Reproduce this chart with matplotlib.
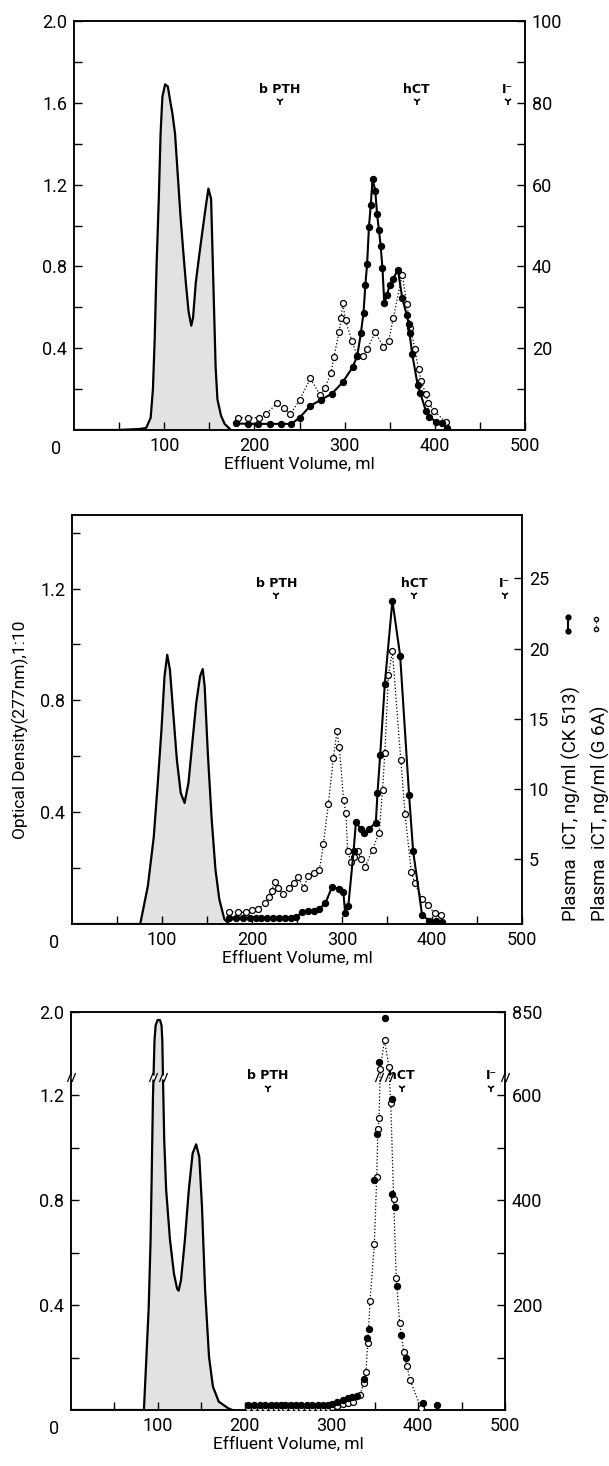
import numpy as np
import matplotlib
matplotlib.use("Agg")
import matplotlib.pyplot as plt
from matplotlib.lines import Line2D
from matplotlib.path import Path

plt.rcParams["font.family"] = ["Roboto", "DejaVu Sans"]

# ---------------- panel 1 ----------------
od1_ml = [0, 48, 73, 80, 85, 87.5, 89.5, 91.5, 94, 96, 98, 101, 104, 107, 109, 112, 115, 118, 121,
          124, 127, 130, 132, 135, 139, 142, 146, 149, 152, 154, 157, 159, 163, 167, 174]
od1_val = [0, 0, 0.005, 0.01, 0.06, 0.2, 0.45, 0.8, 1.13, 1.45, 1.63, 1.69, 1.68, 1.6, 1.55, 1.45, 1.25,
           1.05, 0.88, 0.72, 0.58, 0.51, 0.55, 0.72, 0.86, 0.96, 1.09, 1.18, 1.13, 0.8, 0.31, 0.15, 0.07,
           0.03, 0]
ck1_ml = [180, 193, 204, 217, 229, 241, 250, 262, 274, 286, 298, 309, 314, 318, 321, 323, 325, 327,
          329, 331, 334, 336, 338, 340, 342, 344, 347, 350, 354, 359, 364, 369, 371, 372, 375, 381,
          384, 390, 394, 401, 408, 414]
ck1_val = [1.6, 1.5, 1.5, 1.5, 1.5, 1.5, 3.0, 5.9, 7.4, 8.9, 11.7, 15.4, 18.1, 23.6, 28.7, 35.5, 40.7,
           49.7, 55.0, 61.4, 58.5, 52.8, 49.0, 45.0, 39.5, 31.0, 33.0, 35.5, 37.0, 39.2, 32.2, 28.0, 26.0,
           23.6, 18.5, 11.0, 9.0, 4.7, 3.3, 2.0, 1.6, 0.6]
g1_ml = [182, 193, 205, 213, 225, 233, 240, 250, 262, 273, 278, 285, 288, 294, 296, 298, 301, 308,
         314, 320, 325, 334, 343, 349, 354, 364, 369, 373, 378, 382, 385, 390, 393, 399, 412]
g1_val = [3.0, 3.0, 3.0, 3.9, 6.5, 5.3, 3.9, 7.3, 12.6, 8.5, 10.2, 13.9, 17.8, 24.0, 27.3, 31.0, 26.9,
          21.8, 18.1, 18.1, 19.7, 24.0, 20.3, 21.8, 27.5, 38.0, 30.8, 25.0, 19.7, 14.8, 12.0, 8.7, 6.7,
          4.7, 2.0]

# ---------------- panel 2 ----------------
od2_ml = [0, 75.8, 84.3, 90.8, 95, 99.4, 102.8, 105.8, 108.8, 112.2, 116.5, 120.8, 125.1, 129.4, 133.7,
          138, 142.3, 145.3, 147.4, 150.9, 155.2, 159.4, 163.7, 169.3, 174.5]
od2_val = [0, 0, 0.136, 0.31, 0.49, 0.695, 0.886, 0.963, 0.91, 0.767, 0.588, 0.469, 0.433, 0.505, 0.648,
           0.79, 0.886, 0.912, 0.85, 0.612, 0.374, 0.195, 0.088, 0.017, 0]
ck2_ml = [174.5, 182.6, 190, 197.4, 204, 210.3, 216.9, 223.1, 229.8, 236.4, 243.5, 249, 255.7, 261.9,
          268.6, 274.9, 281.5, 289, 296.2, 301.4, 303.6, 307, 312.9, 315.5, 321, 324.7, 329.5, 337.6,
          339.4, 342.4, 347.6, 356, 364.6, 374.5, 379, 389, 396.8, 404, 411.4]
ck2_val = [0.85, 0.85, 0.85, 0.85, 0.85, 0.85, 0.85, 0.85, 0.85, 0.85, 0.85, 0.9, 1.25, 1.32, 1.32, 1.5,
           1.87, 3.05, 2.9, 2.7, 1.16, 1.68, 5.6, 7.67, 7.13, 6.84, 7.15, 7.6, 9.7, 12.4, 17.5, 23.4,
           19.5, 9.6, 5.6, 1.04, 0.64, 0.64, 0.57]
g2_ml = [174.2, 184.4, 193.7, 200.3, 206.6, 214, 218.4, 222, 225, 228.7, 234.3, 241.6, 246.4, 250.8,
         257.5, 262.3, 269.3, 274.9, 279.3, 284.8, 290.4, 294.4, 297, 301.8, 304.4, 306.2, 310, 313.6,
         317.3, 321, 325.8, 333.9, 341.3, 345, 347.6, 351.6, 356, 365.3, 370.1, 377.1, 380.8, 389,
         395.5, 402.8, 410.5]
g2_val = [1.27, 1.23, 1.23, 1.39, 1.44, 1.87, 2.3, 2.74, 3.4, 2.98, 2.5, 2.98, 3.33, 3.76, 2.98, 3.83,
          4.0, 4.24, 6.06, 8.93, 12.2, 14.1, 13.0, 9.2, 8.27, 5.6, 4.83, 5.18, 5.6, 5.0, 4.47, 5.7, 6.9,
          9.9, 12.6, 18.1, 19.8, 12.1, 8.2, 4.07, 3.3, 2.2, 1.75, 1.16, 1.04]

# ---------------- panel 3 ----------------
od3_ml = [0, 84, 86, 89.5, 91.7, 93, 94.4, 96.2, 97.5, 99.8, 102.5, 104.3, 105.2, 106, 107.4, 109.6,
          114, 118.6, 122.2, 124, 126.7, 131.2, 135.7, 140.1, 144.2, 147.8, 150.9, 154.5, 159, 163.5,
          170.2, 181.4, 186]
od3_val = [0, 0, 0.14, 0.39, 0.65, 0.9, 1.19, 1.68, 1.85, 1.91, 1.91, 1.85, 1.68, 1.26, 1.03, 0.84,
           0.65, 0.52, 0.463, 0.455, 0.495, 0.648, 0.838, 0.978, 1.013, 0.965, 0.775, 0.457, 0.203,
           0.089, 0.032, 0.006, 0]
ck3_ml = [204, 211, 218, 224, 230, 236, 242, 247, 253, 259, 265, 272, 278, 284, 290, 296, 301, 307,
          313, 319, 324, 329, 337, 340.6, 343.7, 349, 353, 355, 361.5, 369.3, 370.2, 373.8, 375.5,
          380, 385.4, 405.6, 421.3]
ck3_val = [9.5, 9.5, 9.5, 9.5, 9.5, 9.5, 9.5, 9.5, 9.5, 9.5, 9.5, 9.5, 9.5, 9.5, 9.5, 9.5, 12, 15, 19,
           22, 25, 27, 60, 138, 154, 438, 527, 685, 830, 592, 411, 387, 236, 143, 100, 12.7, 9.5]
g3_ml = [204, 211, 218, 224, 230, 236, 242, 247, 253, 259, 265, 272, 278, 284, 290, 296, 301, 307,
         313, 319, 325, 333, 337.4, 339.7, 342, 344.5, 349.5, 352.2, 353.6, 354.9, 356.3, 361.2, 366.2,
         368.4, 371.7, 374.7, 378.7, 383.5, 387, 390.5, 403.4]
g3_val = [3, 3, 3, 3, 3, 3, 3, 3, 3, 3, 3, 3, 3, 3, 3, 3, 5, 8, 11, 13, 16, 29, 52, 72, 128, 208, 316,
          444, 535, 556, 660, 758, 668, 585, 402, 251, 165, 110, 84, 58, 3]

markers = ["b PTH", "hCT", "I\u207b"]
marker_ml = [[228, 380, 481], [227, 380, 481], [227, 381, 484]]
xtick_lab = ["", "100", "", "200", "", "300", "", "400", "", "500"]

W, H = 609, 1466
fig = plt.figure(figsize=(W / 100, H / 100), dpi=100)

SLASH = Path([(-0.9, -1.0), (-0.1, 1.0), (0.1, -1.0), (0.9, 1.0)],
             [Path.MOVETO, Path.LINETO, Path.MOVETO, Path.LINETO])


def rect(left, right, top, bottom):
    return [left / W, 1 - bottom / H, (right - left) / W, (bottom - top) / H]


def squeeze(b, k):
    def fwd(y):
        y = np.asarray(y, dtype=float)
        return np.where(y <= b, y, b + (y - b) * k)

    def inv(t):
        t = np.asarray(t, dtype=float)
        return np.where(t <= b, t, b + (t - b) / k)
    return fwd, inv


def setup(ax, ax2):
    ax.set_xlim(0, 500)
    ax.set_xticks(np.arange(50, 501, 50), xtick_lab)
    for a in (ax, ax2):
        a.tick_params(direction="in", length=6, width=1, labelsize=13, pad=5)
        for s in a.spines.values():
            s.set_linewidth(1.1)
    ax.text(-0.04, -0.047, "0", transform=ax.transAxes, ha="center", va="center", fontsize=13)
    ax.set_xlabel("Effluent Volume, ml", fontsize=12.5, labelpad=1)


def od_curve(ax, ml, val):
    ax.fill_between(ml, val, color="#e2e2e2", lw=0, zorder=1)
    ax.plot(ml, val, color="k", lw=1.6, zorder=2)


def series(ax2, ck_ml, ck_val, g_ml, g_val, ck_line=True):
    ax2.plot(g_ml, g_val, ls=":", color="k", lw=0.9, marker="o", ms=4.3, mfc="white", mec="k",
             mew=0.9, zorder=3)
    ax2.plot(ck_ml, ck_val, ls="-" if ck_line else "none", color="k", lw=1.5, marker="o", ms=4.3,
             mfc="k", mec="k", zorder=4)


def tags(ax, xs, ytext, yarrow):
    tr = ax.get_xaxis_transform()
    for name, x in zip(markers, xs):
        ax.text(x, ytext, name, transform=tr, ha="center", va="center", fontsize=9,
                fontweight="bold", family=["DejaVu Sans"])
        ax.plot([x], [yarrow], transform=tr, marker="1", ms=5.5, mew=1.2, color="k")


def breaks(ax, xs, y, tr=None, clip=True):
    kw = dict(ls="none", zorder=6, clip_on=clip)
    if tr is not None:
        kw["transform"] = tr
    ax.plot(xs, [y] * len(xs), marker="s", ms=3, mfc="white", mec="none", **kw)
    ax.plot(xs, [y] * len(xs), marker=SLASH, ms=6.5, mew=0.9, color="k", **kw)


# panel 1
ax1 = fig.add_axes(rect(74, 525, 21, 430))
ax1b = ax1.twinx()
setup(ax1, ax1b)
ax1.set_ylim(0, 2.0)
ax1.set_yticks(np.arange(0.2, 2.01, 0.2), ["", "0.4", "", "0.8", "", "1.2", "", "1.6", "", "2.0"])
ax1b.set_ylim(0, 100)
ax1b.set_yticks(np.arange(10, 101, 10), ["", "20", "", "40", "", "60", "", "80", "", "100"])
od_curve(ax1, od1_ml, od1_val)
series(ax1b, ck1_ml, ck1_val, g1_ml, g1_val)
tags(ax1, marker_ml[0], 0.832, 0.805)

# panel 2
ax2 = fig.add_axes(rect(72, 522, 515, 924))
ax2b = ax2.twinx()
setup(ax2, ax2b)
ax2.set_ylim(0, 1.463)
ax2.set_yticks(np.arange(0.2, 1.41, 0.2), ["", "0.4", "", "0.8", "", "1.2", ""])
ax2b.set_ylim(0.4, 29.5)
ax2b.set_yticks([5, 10, 15, 20, 25])
od_curve(ax2, od2_ml, od2_val)
series(ax2b, ck2_ml, ck2_val, g2_ml, g2_val)
tags(ax2, marker_ml[1], 0.833, 0.804)

fig.text(20 / W, 1 - 730 / H, "Optical Density(277nm),1:10", rotation=90, ha="center", va="center",
         fontsize=12.5)
fig.text(571 / W, 1 - 921 / H, "Plasma  iCT, ng/ml (CK 513)", rotation=90, ha="center",
         va="bottom", fontsize=13.5)
fig.text(600 / W, 1 - 921 / H, "Plasma  iCT, ng/ml (G 6A)", rotation=90, ha="center",
         va="bottom", fontsize=13.5)
fig.add_artist(Line2D([568 / W] * 2, [1 - 631 / H, 1 - 617 / H], transform=fig.transFigure,
                      color="k", lw=1.5, marker="o", ms=3.5, mfc="k"))
fig.add_artist(Line2D([596 / W] * 2, [1 - 629 / H, 1 - 619 / H], transform=fig.transFigure,
                      color="k", lw=0.8, ls=":", marker="o", ms=3, mfc="white"))

# panel 3 (broken y axes)
ax3 = fig.add_axes(rect(71, 505, 1012, 1410))
ax3b = ax3.twinx()
setup(ax3, ax3b)
ax3.set_yscale("function", functions=squeeze(1.27, 0.339))
ax3b.set_yscale("function", functions=squeeze(635, 0.5756))
ax3.set_ylim(0, 2.0)
ax3.set_yticks([0.2, 0.4, 0.6, 0.8, 1.0, 1.2, 2.0], ["", "0.4", "", "0.8", "", "1.2", "2.0"])
ax3b.set_ylim(0, 850)
ax3b.set_yticks([100, 200, 300, 400, 500, 600, 850], ["", "200", "", "400", "", "600", "850"])
ax3.minorticks_off()
ax3b.minorticks_off()
od_curve(ax3, od3_ml, od3_val)
series(ax3b, ck3_ml, ck3_val, g3_ml, g3_val, ck_line=False)
tags(ax3, marker_ml[2], 0.84, 0.81)

breaks(ax3, [0, 1], 1.27, tr=ax3.get_yaxis_transform(), clip=False)
breaks(ax3, [94.4, 106.0, 354.6, 366.4], 1.27)

fig.savefig("out.png", dpi=100)
